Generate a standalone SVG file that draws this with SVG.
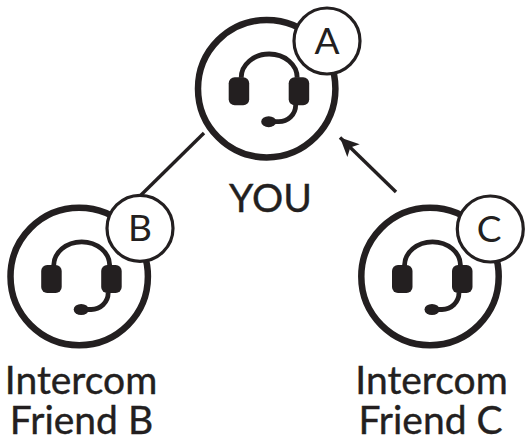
<svg xmlns="http://www.w3.org/2000/svg" xmlns:xlink="http://www.w3.org/1999/xlink" width="529" height="443" viewBox="0 0 529 443">
<style>
.ring{fill:#fff;stroke:#231f20;stroke-width:6.5}
.badge{fill:#fff;stroke:#231f20;stroke-width:3.2}
.ln{fill:none;stroke:#231f20;stroke-width:3.4}
.band{fill:none;stroke:#231f20;stroke-width:4.8}
.fill{fill:#231f20}
text{font-family:"Lato","Open Sans",sans-serif;fill:#231f20;text-anchor:middle}
.lbl{font-size:39px;stroke:#231f20;stroke-width:.4}
.tag{font-size:37px}
</style>
<defs>
<marker id="arrow" markerUnits="userSpaceOnUse" markerWidth="20" markerHeight="20" refX="17" refY="8" orient="auto" viewBox="0 0 18 16">
<path d="M0 0L17 8L0 16L4 8Z" fill="#231f20"/>
</marker>
<g id="headset">
<rect class="fill" x="-38" y="-11.500" width="20.500" height="28" rx="6"/>
<rect class="fill" x="22" y="-11.500" width="20.500" height="28" rx="6"/>
<path class="band" d="M-25.500 -11C-25.500 -24 -13 -34.700 2.500 -34.700C18 -34.700 30.500 -24 30.500 -11"/>
<path class="band" stroke-width="3.6" d="M29 16C29 26 21 33 12 33L6 33"/>
<ellipse class="fill" cx="2" cy="33" rx="7.500" ry="5.500"/>
</g>
</defs>
<g id="connectors">
<line class="ln" x1="204" y1="133" x2="141" y2="195"/>
<line class="ln" x1="396" y1="192" x2="340" y2="137.500" marker-end="url(#arrow)"/>
</g>
<g id="node-a">
<circle class="ring" cx="266.700" cy="88.700" r="68.700"/>
<use xlink:href="#headset" href="#headset" x="266.700" y="88.700"/>
<circle class="badge" cx="327" cy="41" r="33"/>
<text class="tag" x="327" y="54">A</text>
<text class="lbl" x="270.500" y="212">YOU</text>
</g>
<g id="node-b">
<circle class="ring" cx="79.200" cy="276.500" r="68.700"/>
<use xlink:href="#headset" href="#headset" x="79.200" y="276.500"/>
<circle class="badge" cx="140" cy="228.300" r="33"/>
<text class="tag" x="140" y="241">B</text>
<text class="lbl" x="81" y="393.500">Intercom</text>
<text class="lbl" x="81.500" y="433.500">Friend B</text>
</g>
<g id="node-c">
<circle class="ring" cx="430" cy="276.500" r="68.700"/>
<use xlink:href="#headset" href="#headset" x="430" y="276.500"/>
<circle class="badge" cx="490.300" cy="229" r="33"/>
<text class="tag" x="489" y="242">C</text>
<text class="lbl" x="431.500" y="393.500">Intercom</text>
<text class="lbl" x="430.500" y="433.500">Friend C</text>
</g>
</svg>
